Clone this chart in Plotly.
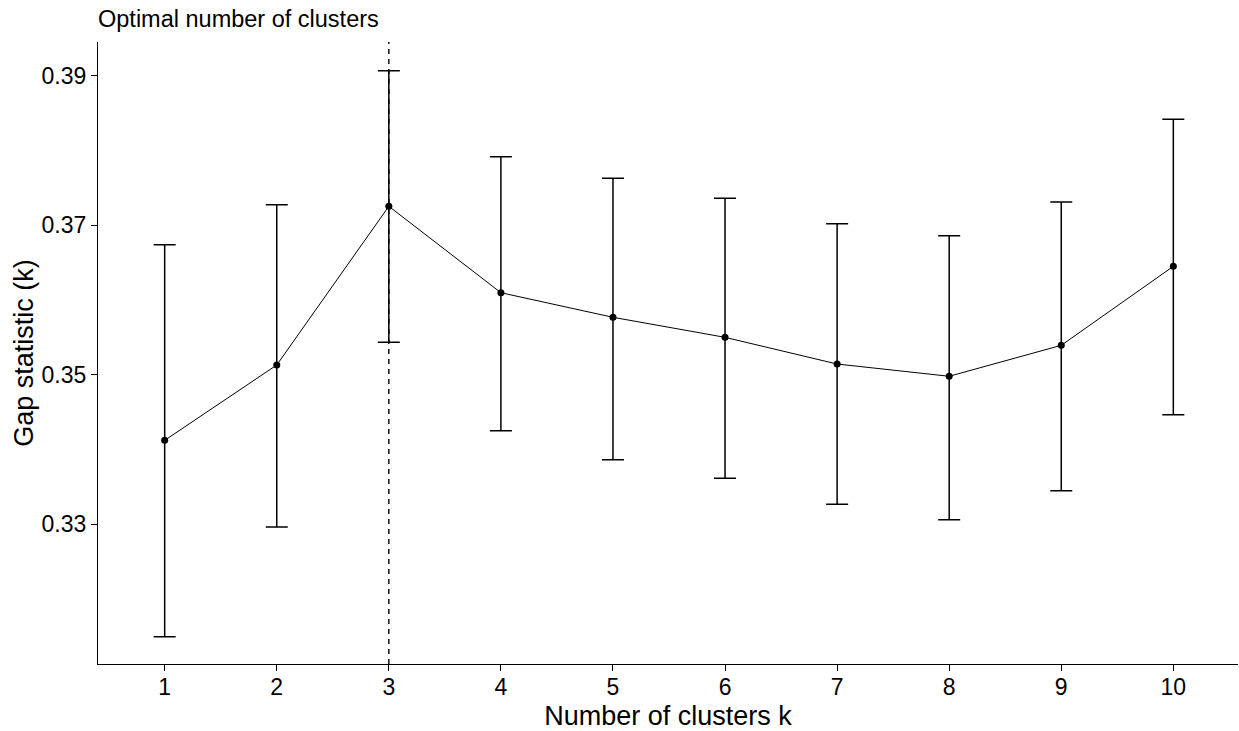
import plotly.graph_objects as go

# Data
k_values = [1, 2, 3, 4, 5, 6, 7, 8, 9, 10]
gap = [0.34122, 0.35130, 0.37253, 0.36097, 0.35768, 0.35500, 0.35143, 0.34979, 0.35393, 0.36450]
ymin = [0.31495, 0.32962, 0.35433, 0.34251, 0.33863, 0.33614, 0.33266, 0.33060, 0.33448, 0.34465]
ymax = [0.36739, 0.37274, 0.39067, 0.37916, 0.37627, 0.37360, 0.37020, 0.36860, 0.37310, 0.38417]
optimal_k = 3
y_tick_vals = [0.33, 0.35, 0.37, 0.39]
y_tick_text = ["0.33", "0.35", "0.37", "0.39"]
x_tick_text = [str(k) for k in k_values]

FONT = "Liberation Sans, Arial, sans-serif"

err_plus = [hi - g for hi, g in zip(ymax, gap)]
err_minus = [g - lo for g, lo in zip(gap, ymin)]

fig = go.Figure()
fig.add_trace(go.Scatter(
    x=k_values, y=gap, mode="lines+markers",
    line=dict(color="black", width=1),
    marker=dict(color="black", size=7, symbol="circle"),
    error_y=dict(type="data", symmetric=False, array=err_plus, arrayminus=err_minus,
                 color="black", thickness=1.5, width=11),
    hoverinfo="skip", showlegend=False,
))

fig.add_shape(type="line", xref="x", yref="paper", x0=optimal_k, x1=optimal_k, y0=0, y1=1,
              line=dict(color="black", width=1.4, dash="5px,5px"))

fig.update_layout(
    width=1239, height=731,
    margin=dict(l=98, r=1, t=42, b=67, autoexpand=False),
    paper_bgcolor="white", plot_bgcolor="white",
    font=dict(family=FONT, color="black"),
    title=dict(text="Optimal number of clusters", x=98 / 1239, xref="container", xanchor="left",
               y=1 - 19 / 731, yref="container", yanchor="middle",
               font=dict(size=23.5, color="black", family=FONT)),
    xaxis=dict(range=[0.405, 10.577], tickmode="array", tickvals=k_values, ticktext=x_tick_text,
               showline=True, linecolor="black", linewidth=1.3, ticks="outside", ticklen=6,
               tickcolor="black", tickwidth=1.3, showgrid=False, zeroline=False,
               ticklabelstandoff=-4,
               tickfont=dict(size=23, color="black"),
               title=dict(text="Number of clusters k", font=dict(size=27, color="black"), standoff=14)),
    yaxis=dict(range=[0.3113, 0.39451], tickmode="array", tickvals=y_tick_vals, ticktext=y_tick_text,
               showline=True, linecolor="black", linewidth=1.3, ticks="outside", ticklen=6,
               tickcolor="black", tickwidth=1.3, showgrid=False, zeroline=False,
               tickfont=dict(size=23, color="black"),
               title=dict(text="Gap statistic (k)", font=dict(size=27, color="black"), standoff=0)),
)

fig.write_html("out.html", config={"displayModeBar": False},
               post_script="document.body.style.margin='0';document.body.style.overflow='hidden';")
